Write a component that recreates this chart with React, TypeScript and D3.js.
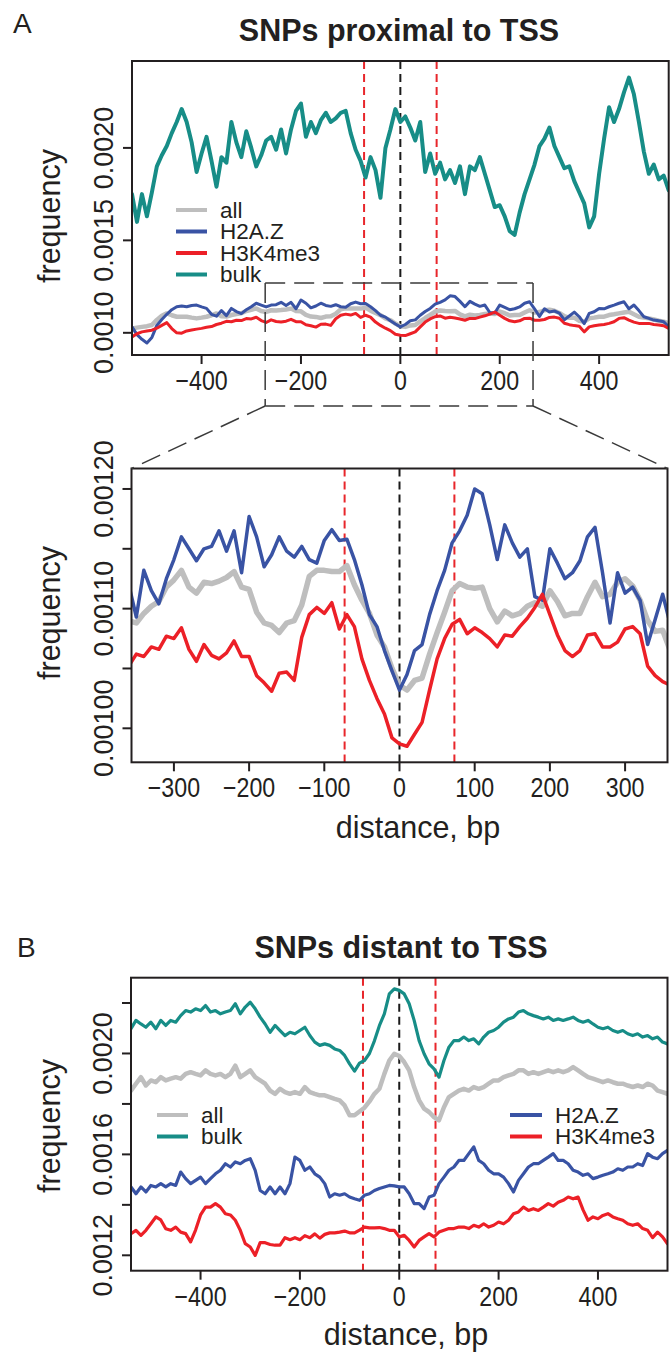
import React, { useEffect, useRef } from 'react';
import * as d3 from 'd3';

// sampling grid, bp from TSS
const positions = d3.range(-540, 541, 10);

// A: SNPs proximal to TSS
const proxAll = [
  0.001023, 0.001028, 0.001032, 0.001036, 0.001042, 0.00107, 0.001092, 0.001105, 0.001095, 0.001087,
  0.001087, 0.001087, 0.001082, 0.001078, 0.001082, 0.001087, 0.001095, 0.001105, 0.00109, 0.001088,
  0.001096, 0.001102, 0.001106, 0.001118, 0.001124, 0.001132, 0.001118, 0.001113, 0.001122, 0.001121,
  0.001123, 0.001126, 0.001131, 0.001118, 0.001116, 0.001097, 0.001088, 0.001086, 0.00108, 0.001088,
  0.00109, 0.001103, 0.001127, 0.001132, 0.001132, 0.001131, 0.001131, 0.001136, 0.00112, 0.001107,
  0.001096, 0.001078, 0.001068, 0.00105, 0.001036, 0.001032, 0.00104, 0.001042, 0.001062, 0.00108,
  0.001097, 0.001115, 0.001121, 0.001118, 0.001117, 0.001118, 0.0011, 0.001089, 0.001098, 0.001094,
  0.001096, 0.001102, 0.001105, 0.001102, 0.001115, 0.001106, 0.001094, 0.001096, 0.001096, 0.00111,
  0.001122, 0.00111, 0.001112, 0.001122, 0.001125, 0.001119, 0.001107, 0.00109, 0.001081, 0.001082,
  0.001065, 0.00106, 0.001078, 0.001082, 0.001087, 0.001087, 0.001096, 0.0011, 0.001105, 0.00111,
  0.001114, 0.0011, 0.001087, 0.001082, 0.001078, 0.001072, 0.001065, 0.00106, 0.001051,
];
const proxH2AZ = [
  0.001032, 0.00099, 0.000965, 0.000945, 0.000975, 0.00104, 0.001072, 0.0011, 0.001125, 0.001141,
  0.001145, 0.001141, 0.001148, 0.00115, 0.00114, 0.001132, 0.0011, 0.00109, 0.00112, 0.001093,
  0.001132, 0.001115, 0.001104, 0.001125, 0.001141, 0.00116, 0.00115, 0.00114, 0.00115, 0.001152,
  0.001165, 0.001148, 0.001165, 0.00113, 0.001177, 0.00116, 0.001135, 0.001145, 0.00116, 0.001148,
  0.001143, 0.001152, 0.001141, 0.001138, 0.001157, 0.001166, 0.001157, 0.001158, 0.001141, 0.00112,
  0.001095, 0.001085, 0.001065, 0.001048, 0.001032, 0.001045, 0.001065, 0.00107, 0.001095, 0.001115,
  0.001132, 0.001155, 0.001165, 0.001178, 0.0012, 0.001196, 0.00117, 0.001141, 0.00117, 0.001155,
  0.001143, 0.00115, 0.00111, 0.001107, 0.00115, 0.001138, 0.001125, 0.00113, 0.00114, 0.00116,
  0.001168, 0.00113, 0.001088, 0.00113, 0.001113, 0.001118, 0.001107, 0.00107, 0.001091, 0.001112,
  0.001087, 0.00105, 0.001105, 0.001114, 0.001132, 0.00113, 0.001141, 0.00115, 0.00116, 0.001168,
  0.00113, 0.00115, 0.00112, 0.001087, 0.001078, 0.001069, 0.001065, 0.00106, 0.001032,
];
const proxH3K4me3 = [
  0.000978, 0.000995, 0.001005, 0.00101, 0.001014, 0.001025, 0.00104, 0.001055, 0.001023, 0.001,
  0.000998, 0.00101, 0.001015, 0.00102, 0.001024, 0.00103, 0.001034, 0.001045, 0.001052, 0.001062,
  0.00106, 0.001068, 0.001066, 0.001077, 0.001075, 0.001084, 0.001066, 0.001056, 0.00107, 0.001061,
  0.001058, 0.001063, 0.001073, 0.00106, 0.00106, 0.001044, 0.001038, 0.001031, 0.001046, 0.001047,
  0.00104, 0.001076, 0.001095, 0.001101, 0.001096, 0.001105, 0.001083, 0.001095, 0.001085, 0.001058,
  0.00104, 0.001025, 0.001012, 0.000992, 0.000987, 0.000985, 0.000995, 0.001005, 0.001032, 0.001058,
  0.001075, 0.001087, 0.001091, 0.001079, 0.001084, 0.00108, 0.001075, 0.001068, 0.001078, 0.001077,
  0.001085, 0.001092, 0.001101, 0.001112, 0.001095, 0.001078, 0.001065, 0.00106, 0.001065, 0.001078,
  0.001079, 0.001068, 0.001068, 0.001072, 0.001083, 0.001085, 0.001079, 0.001052, 0.001044, 0.001039,
  0.001036, 0.001005, 0.001032, 0.001038, 0.001042, 0.001045, 0.001051, 0.00106, 0.001078, 0.001082,
  0.001069, 0.001058, 0.001051, 0.001051, 0.001051, 0.001045, 0.001042, 0.001038, 0.001023,
];
const proxBulk = [
  0.00175, 0.0016, 0.00175, 0.00163, 0.00176, 0.0019, 0.00196, 0.00201, 0.00208, 0.00214,
  0.00221, 0.00214, 0.00203, 0.00187, 0.00197, 0.00206, 0.00193, 0.00179, 0.00195, 0.00192,
  0.00214, 0.00203, 0.00195, 0.00209, 0.002, 0.0019, 0.00196, 0.00204, 0.00206, 0.00199,
  0.0021, 0.00197, 0.0021, 0.0022, 0.00224, 0.00206, 0.00214, 0.00208, 0.00215, 0.00219,
  0.00214, 0.00216, 0.00219, 0.0022, 0.00208, 0.00199, 0.00193, 0.00184, 0.00195, 0.00188,
  0.00173, 0.002, 0.0021, 0.00221, 0.00214, 0.00217, 0.00211, 0.00204, 0.00214, 0.00187,
  0.00197, 0.00186, 0.00192, 0.00183, 0.00188, 0.00181, 0.0019, 0.00175, 0.0019, 0.00188,
  0.00195, 0.00186, 0.00177, 0.00168, 0.00169, 0.00163, 0.00155, 0.00153, 0.00165, 0.00175,
  0.00183, 0.00191, 0.00201, 0.00205, 0.00211, 0.00201, 0.00195, 0.00189, 0.0019, 0.00182,
  0.00176, 0.0017, 0.00157, 0.00163, 0.00186, 0.00205, 0.00222, 0.00214, 0.00221, 0.0023,
  0.00238, 0.00229, 0.00214, 0.00198, 0.00186, 0.00191, 0.00183, 0.00185, 0.00177,
];

// B: SNPs distant to TSS
const distAll = [
  0.001853, 0.00188, 0.001906, 0.001873, 0.001893, 0.001886, 0.001906, 0.001893, 0.0019, 0.001906,
  0.0019, 0.001919, 0.001926, 0.001919, 0.001913, 0.001933, 0.001919, 0.001913, 0.001919, 0.001906,
  0.001919, 0.001952, 0.001906, 0.001919, 0.001933, 0.001906, 0.001893, 0.00188, 0.001853, 0.00184,
  0.00186, 0.001847, 0.00184, 0.001847, 0.00184, 0.001867, 0.001847, 0.00184, 0.001834, 0.001834,
  0.001827, 0.00182, 0.001814, 0.001794, 0.001755, 0.001755, 0.00177, 0.001785, 0.00181, 0.00184,
  0.00186, 0.001919, 0.001972, 0.001999, 0.00199, 0.001966, 0.001933, 0.001867, 0.001814, 0.001781,
  0.001768, 0.001748, 0.001735, 0.001787, 0.001827, 0.00184, 0.001853, 0.00186, 0.001853, 0.001867,
  0.00186, 0.001867, 0.00188, 0.001893, 0.001893, 0.001906, 0.001913, 0.001919, 0.001933, 0.001933,
  0.001919, 0.001926, 0.001919, 0.001926, 0.001933, 0.001926, 0.001933, 0.001926, 0.001933, 0.001946,
  0.001933, 0.001919, 0.001906, 0.0019, 0.001893, 0.001886, 0.001893, 0.001886, 0.00188, 0.00188,
  0.001873, 0.001867, 0.001873, 0.001867, 0.00188, 0.001873, 0.001853, 0.001847, 0.00184,
];
const distH2AZ = [
  0.001471, 0.001444, 0.001471, 0.001451, 0.001477, 0.001471, 0.001484, 0.001471, 0.001484, 0.001477,
  0.00153, 0.001504, 0.001484, 0.001497, 0.00151, 0.001484, 0.001504, 0.001523, 0.001537, 0.001563,
  0.00155, 0.00157, 0.001563, 0.001576, 0.001583, 0.001537, 0.001457, 0.001444, 0.001471, 0.001444,
  0.001471, 0.001444, 0.001484, 0.001589, 0.001576, 0.001537, 0.00155, 0.001523, 0.00151, 0.001484,
  0.001431, 0.001444, 0.001438, 0.001444, 0.001431, 0.001424, 0.001418, 0.001438, 0.001444, 0.001457,
  0.001465, 0.001471, 0.001477, 0.001475, 0.001471, 0.001471, 0.001444, 0.001405, 0.001405, 0.001385,
  0.001431, 0.001438, 0.001484, 0.00151, 0.001537, 0.00155, 0.001576, 0.001576, 0.001603, 0.00163,
  0.001576, 0.001563, 0.001537, 0.001523, 0.001523, 0.00151, 0.001484, 0.001451, 0.001497, 0.001523,
  0.00155, 0.001563, 0.001563, 0.001576, 0.001589, 0.001603, 0.001576, 0.001576, 0.001563, 0.001537,
  0.00153, 0.001517, 0.001523, 0.001504, 0.00151, 0.001517, 0.001523, 0.00153, 0.001543, 0.001537,
  0.00155, 0.00155, 0.001563, 0.001556, 0.001603, 0.001589, 0.001583, 0.001603, 0.001616,
];
const distH3K4me3 = [
  0.001286, 0.001299, 0.001279, 0.001299, 0.001325, 0.001352, 0.00134, 0.001305, 0.001299, 0.001312,
  0.001292, 0.001286, 0.001253, 0.0013, 0.00136, 0.001391, 0.001391, 0.001405, 0.001391, 0.001365,
  0.00136, 0.001339, 0.001299, 0.001246, 0.001233, 0.0012, 0.00125, 0.00125, 0.001243, 0.00124,
  0.00124, 0.00127, 0.001262, 0.00127, 0.001262, 0.001278, 0.00127, 0.001285, 0.001268, 0.001283,
  0.001289, 0.001289, 0.001292, 0.001296, 0.001289, 0.001289, 0.0013, 0.001312, 0.001309, 0.001309,
  0.00131, 0.001306, 0.001299, 0.001299, 0.001273, 0.001279, 0.001259, 0.001233, 0.001259, 0.001273,
  0.001286, 0.001273, 0.001292, 0.001299, 0.001306, 0.001306, 0.001312, 0.001312, 0.001306, 0.001319,
  0.001312, 0.001325, 0.001312, 0.001319, 0.001332, 0.001325, 0.001339, 0.001365, 0.001372, 0.001391,
  0.001378, 0.001385, 0.001378, 0.001391, 0.001405, 0.001395, 0.00141, 0.001418, 0.001431, 0.001424,
  0.001431, 0.00138, 0.001339, 0.001352, 0.001345, 0.001358, 0.001365, 0.001352, 0.001345, 0.001339,
  0.001325, 0.001319, 0.001325, 0.001306, 0.001299, 0.00127, 0.001292, 0.001273, 0.001246,
];
const distBulk = [
  0.002098, 0.002131, 0.002117, 0.002104, 0.002124, 0.002098, 0.002131, 0.002111, 0.002131, 0.002124,
  0.00215, 0.00217, 0.002164, 0.002177, 0.00217, 0.00219, 0.002164, 0.00217, 0.002157, 0.002164,
  0.00217, 0.002197, 0.002157, 0.002184, 0.002203, 0.002177, 0.002144, 0.002117, 0.002084, 0.002111,
  0.002091, 0.002071, 0.002084, 0.002078, 0.002091, 0.002104, 0.002071, 0.002045, 0.002032, 0.002038,
  0.002032, 0.002018, 0.002012, 0.001992, 0.001959, 0.00193, 0.001962, 0.001972, 0.002, 0.00205,
  0.00211, 0.002157, 0.002236, 0.002256, 0.00225, 0.002236, 0.002197, 0.002131, 0.002051, 0.001999,
  0.001959, 0.001939, 0.001906, 0.001972, 0.002025, 0.002051, 0.002051, 0.002065, 0.002051, 0.002058,
  0.002038, 0.002065, 0.002084, 0.002091, 0.002104, 0.002124, 0.002137, 0.002144, 0.002164, 0.00217,
  0.002157, 0.00215, 0.002144, 0.002137, 0.002144, 0.002131, 0.002137, 0.002131, 0.002137, 0.002144,
  0.002131, 0.002124, 0.002131, 0.002117, 0.002104, 0.002098, 0.002104, 0.002091, 0.002084, 0.002091,
  0.002078, 0.002071, 0.002078, 0.002065, 0.002071, 0.002058, 0.002065, 0.002045, 0.002038,
];

// axes
const wideTicks = [-400, -200, 0, 200, 400];
const wideTickLabels = ['\u2212400', '\u2212200', '0', '200', '400'];
const zoomTicks = [-300, -200, -100, 0, 100, 200, 300];
const zoomTickLabels = ['\u2212300', '\u2212200', '\u2212100', '0', '100', '200', '300'];
const proxYTicks = [0.001, 0.0015, 0.002];
const proxYLabels = ['0.0010', '0.0015', '0.0020'];
const zoomYTicks = [0.001, 0.00105, 0.0011, 0.00115, 0.0012];
const zoomYLabels = ['0.00100', '', '0.00110', '', '0.00120'];
const distYTicks = [0.0012, 0.0014, 0.0016, 0.0018, 0.002, 0.0022];
const distYLabels = ['0.0012', '', '0.0016', '', '0.0020', ''];
const markers = [-73, 0, 73]; // dashed guides

const COLORS = {
  all: '#bebebe',
  h2az: '#3953a4',
  h3k4me3: '#ec2027',
  bulk: '#178d87',
};
const INK = '#231f20';
const FONT = "'Liberation Sans', Arial, Helvetica, sans-serif";

type Box = { left: number; right: number; top: number; bottom: number };

const text = (g, str, x, y, size, opts: any = {}) =>
  g
    .append('text')
    .attr('transform', `translate(${x},${y})${opts.rotate ? ' rotate(-90)' : ''}${opts.sx ? ` scale(${opts.sx},1)` : ''}`)
    .attr('text-anchor', opts.anchor || 'middle')
    .style('font-family', FONT)
    .style('font-size', `${size}px`)
    .style('font-weight', opts.weight || 'normal')
    .style('fill', INK)
    .text(str);

function drawPanel(root, cfg) {
  const { id, box, xDomain, yDomain, series, xTicks, xLabels, yTicks, yLabels, ylabY } = cfg;
  const x = d3.scaleLinear().domain(xDomain).range([box.left, box.right]);
  const y = d3.scaleLinear().domain(yDomain).range([box.bottom, box.top]);
  const g = root.append('g');

  g.append('clipPath')
    .attr('id', id)
    .append('rect')
    .attr('x', box.left)
    .attr('y', box.top)
    .attr('width', box.right - box.left)
    .attr('height', box.bottom - box.top);

  // dashed guides at TSS and +-73 bp
  markers.forEach((m) => {
    g.append('line')
      .attr('x1', x(m))
      .attr('x2', x(m))
      .attr('y1', box.top)
      .attr('y2', box.bottom)
      .attr('stroke', m === 0 ? '#1a1a1a' : '#e8262b')
      .attr('stroke-width', 2)
      .attr('stroke-dasharray', '8,5');
  });

  const line = d3
    .line<number>()
    .x((_, i) => x(positions[i]))
    .y((d) => y(d));
  const lines = g.append('g').attr('clip-path', `url(#${id})`);
  series.forEach((s) => {
    lines
      .append('path')
      .attr('d', line(s.values))
      .attr('fill', 'none')
      .attr('stroke', s.color)
      .attr('stroke-width', s.width)
      .attr('stroke-linejoin', 'round')
      .attr('stroke-linecap', 'round');
  });

  g.append('rect')
    .attr('x', box.left)
    .attr('y', box.top)
    .attr('width', box.right - box.left)
    .attr('height', box.bottom - box.top)
    .attr('fill', 'none')
    .attr('stroke', INK)
    .attr('stroke-width', 2);

  xTicks.forEach((t, i) => {
    g.append('line')
      .attr('x1', x(t))
      .attr('x2', x(t))
      .attr('y1', box.bottom)
      .attr('y2', box.bottom + 9)
      .attr('stroke', INK)
      .attr('stroke-width', 2);
    text(g, xLabels[i], x(t), box.bottom + 35, 27, { sx: 0.86 });
  });

  yTicks.forEach((t, i) => {
    g.append('line')
      .attr('x1', box.left - 9)
      .attr('x2', box.left)
      .attr('y1', y(t))
      .attr('y2', y(t))
      .attr('stroke', INK)
      .attr('stroke-width', 2);
    if (yLabels[i]) text(g, yLabels[i], box.left - 19, y(t), 27, { rotate: true });
  });

  text(g, 'frequency', 60, ylabY, 30.5, { rotate: true });
  return { x, y };
}

function legend(g, entries, x0, y0, len) {
  entries.forEach((e, i) => {
    const yy = y0 + i * 21.5;
    g.append('line')
      .attr('x1', x0)
      .attr('x2', x0 + len)
      .attr('y1', yy)
      .attr('y2', yy)
      .attr('stroke', e.color)
      .attr('stroke-width', 4);
    text(g, e.label, x0 + len + 13, yy + 7.5, 22.5, { anchor: 'start' });
  });
}

export default function App() {
  const ref = useRef<SVGSVGElement>(null);

  useEffect(() => {
    if (!ref.current) return;
    const svg = d3.select(ref.current);
    svg.selectAll('*').remove();
    svg.append('rect').attr('width', 670).attr('height', 1353).attr('fill', '#fff');

    // ---- A, full range
    text(svg, 'A', 13, 33, 28, { anchor: 'start' });
    text(svg, 'SNPs proximal to TSS', 399, 41, 30.5, { weight: 'bold' });
    const prox = drawPanel(svg, {
      id: 'clip-prox',
      box: { left: 132, right: 668.7, top: 61, bottom: 355 },
      xDomain: [-540, 540],
      yDomain: [0.00088, 0.00247],
      series: [
        { values: proxAll, color: COLORS.all, width: 4.5 },
        { values: proxH2AZ, color: COLORS.h2az, width: 3 },
        { values: proxH3K4me3, color: COLORS.h3k4me3, width: 3 },
        { values: proxBulk, color: COLORS.bulk, width: 4 },
      ],
      xTicks: wideTicks,
      xLabels: wideTickLabels,
      yTicks: proxYTicks,
      yLabels: proxYLabels,
      ylabY: 216,
    });
    legend(
      svg,
      [
        { label: 'all', color: COLORS.all },
        { label: 'H2A.Z', color: COLORS.h2az },
        { label: 'H3K4me3', color: COLORS.h3k4me3 },
        { label: 'bulk', color: COLORS.bulk },
      ],
      176,
      210,
      31
    );

    // ---- A, zoomed window
    const zoomBox: Box = { left: 131.5, right: 667.5, top: 468.5, bottom: 762.3 };
    drawPanel(svg, {
      id: 'clip-zoom',
      box: zoomBox,
      xDomain: [-356.4, 356.4],
      yDomain: [0.0009716, 0.0012171],
      series: [
        { values: proxAll, color: COLORS.all, width: 5.5 },
        { values: proxH2AZ, color: COLORS.h2az, width: 3.5 },
        { values: proxH3K4me3, color: COLORS.h3k4me3, width: 3.5 },
      ],
      xTicks: zoomTicks,
      xLabels: zoomTickLabels,
      yTicks: zoomYTicks,
      yLabels: zoomYLabels,
      ylabY: 613,
    });
    text(svg, 'distance, bp', 418, 838, 30.5);

    // zoom frame and connectors
    const fl = prox.x(-272);
    const fr = prox.x(267);
    const ft = prox.y(0.00127);
    const fb = 406;
    const dash = (x1, y1, x2, y2) =>
      svg
        .append('line')
        .attr('x1', x1)
        .attr('y1', y1)
        .attr('x2', x2)
        .attr('y2', y2)
        .attr('stroke', '#3a3a3a')
        .attr('stroke-width', 1.5)
        .attr('stroke-dasharray', '20,9');
    dash(fl, ft, fr, ft);
    dash(fl, fb, fr, fb);
    dash(fl, ft, fl, fb);
    dash(fr, ft, fr, fb);
    dash(fl, fb, zoomBox.left, zoomBox.top);
    dash(fr, fb, zoomBox.right, zoomBox.top);

    // ---- B
    text(svg, 'B', 17, 957, 28, { anchor: 'start' });
    text(svg, 'SNPs distant to TSS', 401, 958, 30.5, { weight: 'bold' });
    const distBox: Box = { left: 131, right: 667.5, top: 977.7, bottom: 1270.7 };
    drawPanel(svg, {
      id: 'clip-dist',
      box: distBox,
      xDomain: [-540, 540],
      yDomain: [0.001139, 0.0023003],
      series: [
        { values: distAll, color: COLORS.all, width: 4.5 },
        { values: distH2AZ, color: COLORS.h2az, width: 3.2 },
        { values: distH3K4me3, color: COLORS.h3k4me3, width: 3.2 },
        { values: distBulk, color: COLORS.bulk, width: 3.2 },
      ],
      xTicks: wideTicks,
      xLabels: wideTickLabels,
      yTicks: distYTicks,
      yLabels: distYLabels,
      ylabY: 1126,
    });
    text(svg, 'distance, bp', 406, 1345, 30.5);
    legend(
      svg,
      [
        { label: 'all', color: COLORS.all },
        { label: 'bulk', color: COLORS.bulk },
      ],
      157,
      1115,
      31
    );
    legend(
      svg,
      [
        { label: 'H2A.Z', color: COLORS.h2az },
        { label: 'H3K4me3', color: COLORS.h3k4me3 },
      ],
      510,
      1115,
      32
    );
  }, []);

  return (
    <div style={{ position: 'absolute', left: 0, top: 0 }}>
      <svg ref={ref} width={670} height={1353} />
    </div>
  );
}
